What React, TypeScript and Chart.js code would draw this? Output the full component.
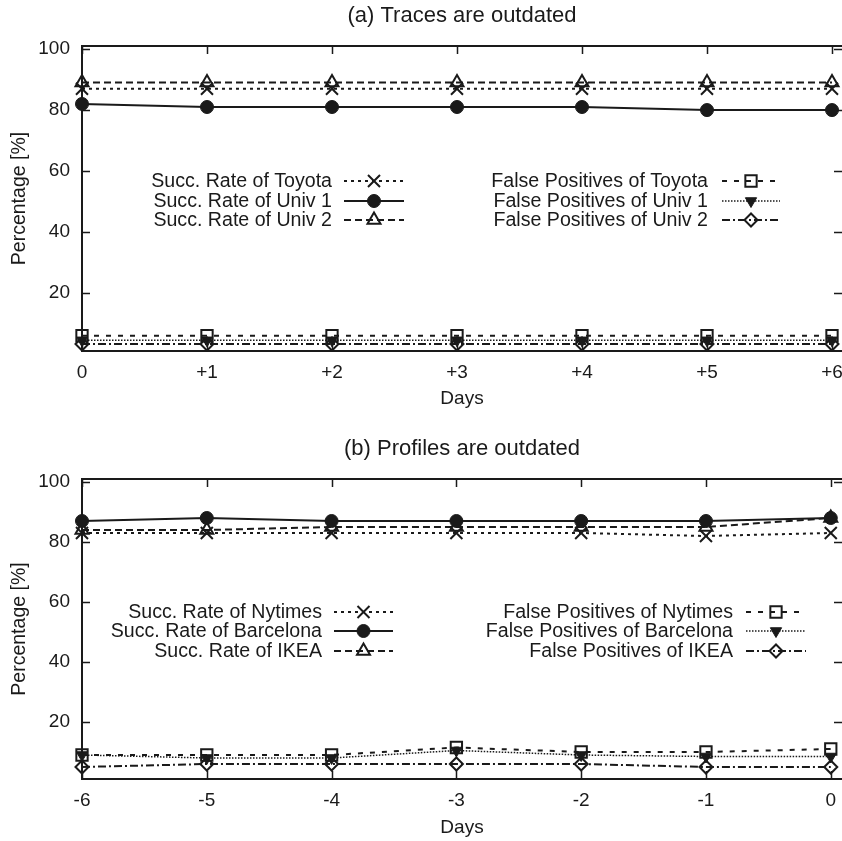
import React, { useEffect, useRef } from 'react';
import { Chart, registerables } from 'chart.js';
import { drawPoint } from 'chart.js/helpers';

Chart.register(...registerables);

// ---------- data ----------
const daysA = [0, 1, 2, 3, 4, 5, 6];
const daysALabels = ['0', '+1', '+2', '+3', '+4', '+5', '+6'];
const daysB = [-6, -5, -4, -3, -2, -1, 0];
const daysBLabels = ['-6', '-5', '-4', '-3', '-2', '-1', '0'];
const yTickValues = [20, 40, 60, 80, 100];

const succToyota = [87, 87, 87, 87, 87, 87, 87];
const succUniv1 = [82, 81, 81, 81, 81, 80, 80];
const succUniv2 = [89, 89, 89, 89, 89, 89, 89];
const fpToyota = [6, 6, 6, 6, 6, 6, 6];
const fpUniv1 = [4.5, 4.5, 4.5, 4.5, 4.5, 4.5, 4.5];
const fpUniv2 = [3.3, 3.3, 3.3, 3.3, 3.3, 3.3, 3.3];

const succNytimes = [83, 83, 83, 83, 83, 82, 83];
const succBarcelona = [87, 88, 87, 87, 87, 87, 88];
const succIKEA = [84, 84, 85, 85, 85, 85, 88];
const fpNytimes = [9, 9, 9, 11.5, 10, 10, 11];
const fpBarcelona = [9, 8, 8, 10.5, 9, 8.5, 8.5];
const fpIKEA = [5, 6, 6, 6, 6, 5, 5];

// ---------- styles ----------
const FONT = '"Liberation Sans", Arial, Helvetica, sans-serif';
const INK = '#1a1a1a';
const TRANSPARENT = 'rgba(0,0,0,0)';

type Style = {
  borderDash: number[];
  borderWidth: number;
  pointStyle: string;
  pointRadius: number;
  pointRotation?: number;
  filled: boolean;
  pointBorderWidth: number;
};

const styleSuccCross: Style = { borderDash: [3, 4], borderWidth: 2, pointStyle: 'crossRot', pointRadius: 8.5, filled: false, pointBorderWidth: 2 };
const styleSuccCircle: Style = { borderDash: [], borderWidth: 2, pointStyle: 'circle', pointRadius: 6.5, filled: true, pointBorderWidth: 1 };
const styleSuccTriangle: Style = { borderDash: [7, 4], borderWidth: 2, pointStyle: 'triangle', pointRadius: 7.5, filled: false, pointBorderWidth: 2 };
const styleFpSquare: Style = { borderDash: [5, 7], borderWidth: 2, pointStyle: 'rect', pointRadius: 8, filled: false, pointBorderWidth: 2 };
const styleFpTriDown: Style = { borderDash: [1.5, 1.5], borderWidth: 1.5, pointStyle: 'triangle', pointRadius: 6.5, pointRotation: 180, filled: true, pointBorderWidth: 1 };
const styleFpDiamond: Style = { borderDash: [8, 3, 2, 3], borderWidth: 2, pointStyle: 'rectRot', pointRadius: 6.5, filled: false, pointBorderWidth: 2 };

function makeDataset(label: string, xs: number[], ys: number[], s: Style) {
  return {
    label,
    data: xs.map((x, i) => ({ x, y: ys[i] })),
    borderColor: INK,
    borderWidth: s.borderWidth,
    borderDash: s.borderDash,
    pointStyle: s.pointStyle,
    pointRadius: s.pointRadius,
    pointHoverRadius: s.pointRadius,
    pointRotation: s.pointRotation || 0,
    pointBackgroundColor: s.filled ? INK : TRANSPARENT,
    pointBorderColor: INK,
    pointBorderWidth: s.pointBorderWidth,
    fill: false,
    tension: 0,
    clip: false as any,
  };
}

// ---------- plugins ----------
const framePlugin = {
  id: 'gpFrame',
  beforeDatasetsDraw(chart: any) {
    const { ctx, chartArea: a, scales } = chart;
    const x = scales.x, y = scales.y;
    ctx.save();
    ctx.strokeStyle = INK;
    ctx.lineWidth = 2;
    ctx.beginPath();
    ctx.moveTo(a.right + 2, a.top);
    ctx.lineTo(a.left, a.top);
    ctx.lineTo(a.left, a.bottom);
    ctx.lineTo(a.right + 2, a.bottom);
    ctx.stroke();
    ctx.lineWidth = 1.5;
    ctx.beginPath();
    const tl = 8;
    x.ticks.forEach((t: any) => {
      const px = Math.round(x.getPixelForValue(t.value)) + 0.5;
      ctx.moveTo(px, a.bottom);
      ctx.lineTo(px, a.bottom - tl);
      ctx.moveTo(px, a.top);
      ctx.lineTo(px, a.top + tl);
    });
    y.ticks.forEach((t: any) => {
      const py = Math.round(y.getPixelForValue(t.value)) + 0.5;
      ctx.moveTo(a.left, py);
      ctx.lineTo(a.left + tl, py);
      ctx.moveTo(a.right, py);
      ctx.lineTo(a.right - tl, py);
    });
    ctx.stroke();
    ctx.restore();
  },
  afterDraw(chart: any, _args: any, opts: any) {
    const { ctx, chartArea: a } = chart;
    const cx = (a.left + a.right) / 2;
    const cy = (a.top + a.bottom) / 2;
    ctx.save();
    ctx.fillStyle = INK;
    ctx.textAlign = 'center';
    ctx.textBaseline = 'middle';
    ctx.font = `22px ${FONT}`;
    ctx.fillText(opts.title, cx, opts.titleY);
    ctx.font = `19px ${FONT}`;
    ctx.fillText(opts.xTitle, cx, opts.xTitleY);
    ctx.font = `19.5px ${FONT}`;
    ctx.translate(opts.yTitleX, cy);
    ctx.rotate(-Math.PI / 2);
    ctx.fillText(opts.yTitle, 0, 0);
    ctx.restore();
  },
};

const legendPlugin = {
  id: 'gpLegend',
  afterDatasetsDraw(chart: any, _args: any, opts: any) {
    const { ctx } = chart;
    (opts.entries || []).forEach((e: any) => {
      const ds = chart.data.datasets[e.index];
      ctx.save();
      ctx.font = `19.6px ${FONT}`;
      ctx.fillStyle = INK;
      ctx.textAlign = 'right';
      ctx.textBaseline = 'middle';
      ctx.fillText(ds.label, e.textRight, e.y + 1);
      ctx.strokeStyle = ds.borderColor;
      ctx.lineWidth = ds.borderWidth;
      ctx.setLineDash(ds.borderDash || []);
      ctx.beginPath();
      ctx.moveTo(e.x0, e.y);
      ctx.lineTo(e.x1, e.y);
      ctx.stroke();
      ctx.setLineDash([]);
      ctx.fillStyle = ds.pointBackgroundColor;
      ctx.strokeStyle = ds.pointBorderColor;
      ctx.lineWidth = ds.pointBorderWidth;
      drawPoint(ctx, {
        pointStyle: ds.pointStyle,
        radius: ds.pointRadius,
        rotation: ds.pointRotation || 0,
        borderWidth: ds.pointBorderWidth,
      } as any, (e.x0 + e.x1) / 2, e.y);
      ctx.restore();
    });
  },
};

type PanelProps = {
  width: number;
  height: number;
  days: number[];
  dayLabels: string[];
  xMin: number;
  xMax: number;
  datasets: any[];
  title: string;
  titleY: number;
  xTitleY: number;
  padTop: number;
  xAxisHeight: number;
  legend: any[];
};

function Panel(p: PanelProps) {
  const ref = useRef<HTMLCanvasElement | null>(null);
  useEffect(() => {
    if (!ref.current) return;
    const tickFont = { family: FONT, size: 19 };
    const chart = new Chart(ref.current, {
      type: 'line',
      data: { datasets: p.datasets },
      plugins: [framePlugin, legendPlugin],
      options: {
        animation: false,
        responsive: false,
        devicePixelRatio: 1,
        layout: { autoPadding: false, padding: { top: p.padTop, left: 0, right: 0, bottom: 0 } },
        scales: {
          x: {
            type: 'linear',
            min: p.xMin,
            max: p.xMax,
            grid: { display: false, drawTicks: false },
            border: { display: false },
            afterBuildTicks: (s: any) => {
              s.ticks = p.days.map((v) => ({ value: v }));
            },
            afterFit: (s: any) => {
              s.height = p.xAxisHeight;
              s.paddingLeft = 0;
              s.paddingRight = 0;
            },
            ticks: {
              includeBounds: false,
              autoSkip: false,
              maxRotation: 0,
              padding: 10,
              color: INK,
              font: tickFont,
              callback: (_v: any, i: number) => p.dayLabels[i],
            },
          },
          y: {
            type: 'linear',
            min: 1,
            max: 101,
            grid: { display: false, drawTicks: false },
            border: { display: false },
            afterBuildTicks: (s: any) => {
              s.ticks = yTickValues.map((v) => ({ value: v }));
            },
            afterFit: (s: any) => {
              s.width = 82;
              s.paddingTop = 0;
              s.paddingBottom = 0;
            },
            ticks: { padding: 12, color: INK, font: tickFont, callback: (v: any) => String(v) },
          },
        },
        plugins: {
          legend: { display: false },
          tooltip: { enabled: false },
          title: { display: false },
          gpFrame: {
            title: p.title,
            titleY: p.titleY,
            xTitle: 'Days',
            xTitleY: p.xTitleY,
            yTitle: 'Percentage [%]',
            yTitleX: 20,
          },
          gpLegend: { entries: p.legend },
        } as any,
      },
    });
    return () => chart.destroy();
  }, []);
  return <canvas ref={ref} width={p.width} height={p.height} style={{ display: 'block', width: p.width, height: p.height }} />;
}

export default function App() {
  const dsA = [
    makeDataset('Succ. Rate of Toyota', daysA, succToyota, styleSuccCross),
    makeDataset('Succ. Rate of Univ 1', daysA, succUniv1, styleSuccCircle),
    makeDataset('Succ. Rate of Univ 2', daysA, succUniv2, styleSuccTriangle),
    makeDataset('False Positives of Toyota', daysA, fpToyota, styleFpSquare),
    makeDataset('False Positives of Univ 1', daysA, fpUniv1, styleFpTriDown),
    makeDataset('False Positives of Univ 2', daysA, fpUniv2, styleFpDiamond),
  ];
  const dsB = [
    makeDataset('Succ. Rate of Nytimes', daysB, succNytimes, styleSuccCross),
    makeDataset('Succ. Rate of Barcelona', daysB, succBarcelona, styleSuccCircle),
    makeDataset('Succ. Rate of IKEA', daysB, succIKEA, styleSuccTriangle),
    makeDataset('False Positives of Nytimes', daysB, fpNytimes, styleFpSquare),
    makeDataset('False Positives of Barcelona', daysB, fpBarcelona, styleFpTriDown),
    makeDataset('False Positives of IKEA', daysB, fpIKEA, styleFpDiamond),
  ];
  const rowsA = [181, 201, 220];
  const legendA = [
    ...rowsA.map((y, i) => ({ index: i, y, textRight: 332, x0: 344, x1: 404 })),
    ...rowsA.map((y, i) => ({ index: i + 3, y, textRight: 708, x0: 722, x1: 780 })),
  ];
  const rowsB = [202, 221, 241];
  const legendB = [
    ...rowsB.map((y, i) => ({ index: i, y, textRight: 322, x0: 334, x1: 393 })),
    ...rowsB.map((y, i) => ({ index: i + 3, y, textRight: 733, x0: 746, x1: 806 })),
  ];
  return (
    <div style={{ position: 'absolute', left: 0, top: 0, width: 842, height: 841, background: '#fff' }}>
      <Panel
        width={842}
        height={410}
        days={daysA}
        dayLabels={daysALabels}
        xMin={0}
        xMax={6.08}
        datasets={dsA}
        title="(a) Traces are outdated"
        titleY={16}
        xTitleY={399}
        padTop={46}
        xAxisHeight={59}
        legend={legendA}
      />
      <Panel
        width={842}
        height={431}
        days={daysB}
        dayLabels={daysBLabels}
        xMin={-6}
        xMax={0.09}
        datasets={dsB}
        title="(b) Profiles are outdated"
        titleY={39}
        xTitleY={418}
        padTop={69}
        xAxisHeight={62}
        legend={legendB}
      />
    </div>
  );
}
